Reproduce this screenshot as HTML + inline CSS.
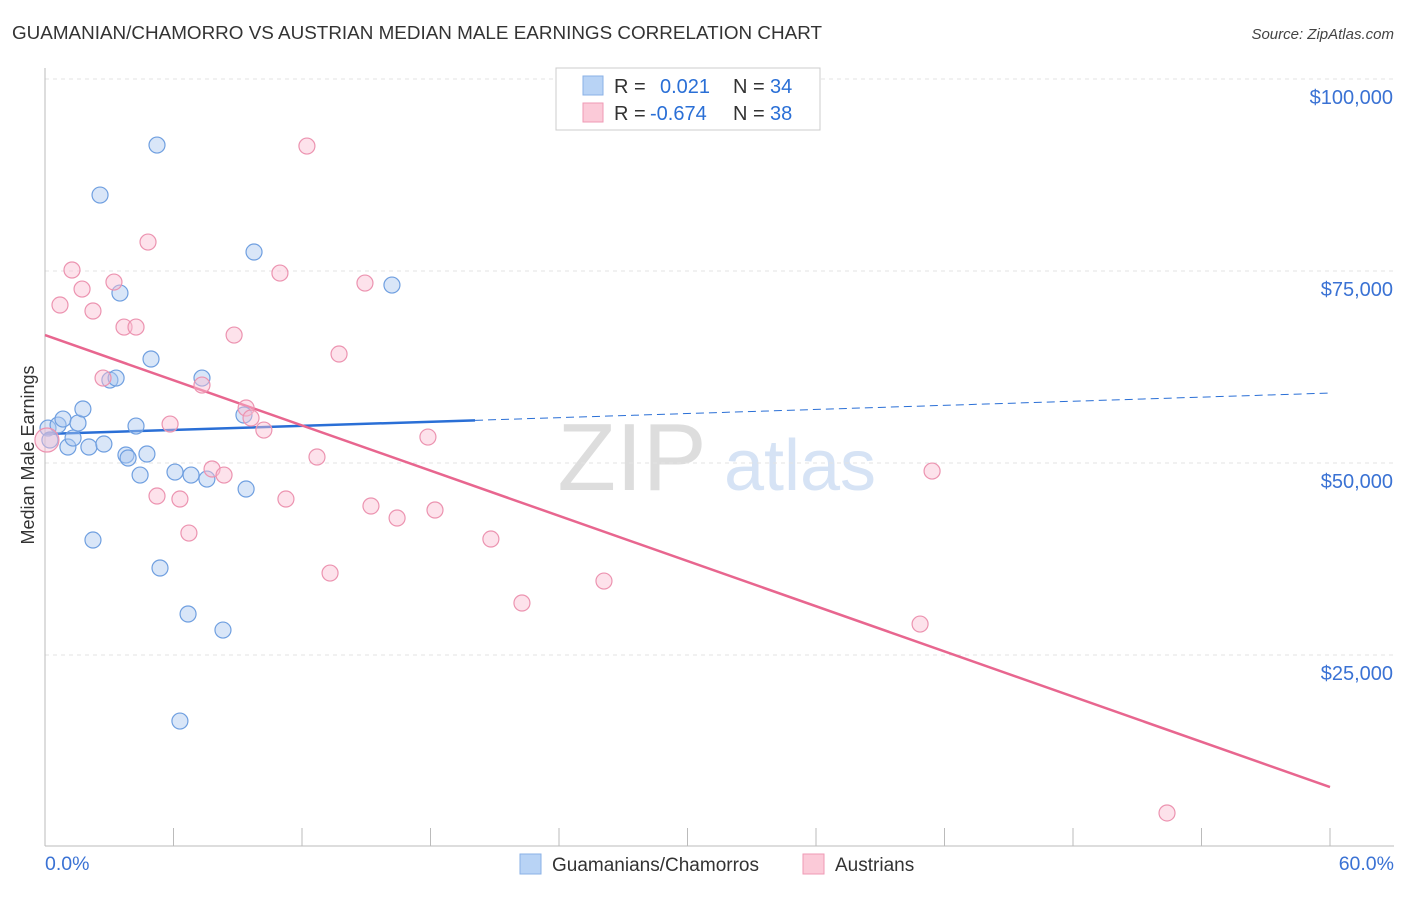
<!DOCTYPE html>
<html><head><meta charset="utf-8"><style>
body{margin:0;background:#fff;font-family:"Liberation Sans",sans-serif;}
svg text{font-family:"Liberation Sans",sans-serif;}
</style></head><body>
<svg id="chart" width="1406" height="892" xmlns="http://www.w3.org/2000/svg">
<text x="12" y="39" font-size="18" fill="#333" textLength="810" lengthAdjust="spacingAndGlyphs">GUAMANIAN/CHAMORRO VS AUSTRIAN MEDIAN MALE EARNINGS CORRELATION CHART</text>
<text x="1394" y="39" font-size="15" fill="#444" text-anchor="end" font-style="italic">Source: ZipAtlas.com</text>
<text transform="translate(34,455) rotate(-90)" font-size="18" fill="#333" text-anchor="middle">Median Male Earnings</text>
<g>
<text x="632" y="490" font-size="96" fill="#ddd" font-family="Liberation Serif" text-anchor="middle">ZIP</text>
<text x="800" y="490" font-size="72" fill="#d6e3f5" text-anchor="middle">atlas</text>
</g>
<g id="grid"></g><g id="axes"></g><g id="lines"></g><g id="pts"></g>
<g>
<rect x="556" y="68" width="264" height="62" fill="#fff" stroke="#ccc"/>
<rect x="583" y="76" width="20" height="19" fill="#b8d3f5" stroke="#8ab0e6"/>
<text x="614" y="93" font-size="20" fill="#333">R =</text>
<text x="660" y="93" font-size="20" fill="#2a6fd6">0.021</text>
<text x="733" y="93" font-size="20" fill="#333">N =</text>
<text x="770" y="93" font-size="20" fill="#2a6fd6">34</text>
<rect x="583" y="103" width="20" height="19" fill="#fbcad8" stroke="#ef9ab5"/>
<text x="614" y="120" font-size="20" fill="#333">R =</text>
<text x="650" y="120" font-size="20" fill="#2a6fd6">-0.674</text>
<text x="733" y="120" font-size="20" fill="#333">N =</text>
<text x="770" y="120" font-size="20" fill="#2a6fd6">38</text>
</g>
<g>
<rect x="520" y="854" width="21" height="20" fill="#b8d3f5" stroke="#8ab0e6"/>
<text x="552" y="871" font-size="19" fill="#333">Guamanians/Chamorros</text>
<rect x="803" y="854" width="21" height="20" fill="#fbcad8" stroke="#ef9ab5"/>
<text x="835" y="871" font-size="19" fill="#333">Austrians</text>
</g>
</svg>
<script>
const blueX=[0.14,0.61,0.84,1.07,1.31,1.54,1.77,2.05,2.24,2.57,2.75,3.03,3.32,3.50,3.78,3.88,4.25,4.44,4.76,4.95,5.23,5.37,6.07,6.30,6.68,6.82,7.33,7.56,8.31,9.29,9.39,9.76,16.20,0.23];
const blueY=[54550,54940,55720,52080,53250,55200,57030,52080,39970,84890,52470,60800,61060,72130,51040,50650,54810,48430,51170,63540,91400,36330,48820,16400,30340,48430,61060,47910,28250,56250,46610,77470,73170,52990];
const pinkX=[0.09,0.70,1.26,1.73,2.24,2.71,3.22,3.69,4.25,4.81,5.23,5.84,6.30,6.72,7.33,7.80,8.36,8.83,9.39,9.62,10.22,10.97,11.25,12.23,12.70,13.31,13.73,14.94,15.22,16.44,17.88,18.21,20.82,22.27,26.10,40.86,41.42,52.39];
const pinkY=[52990,70570,75130,72650,69790,61060,73560,67700,67700,78770,45700,55070,45310,40880,60150,49220,48430,66660,57160,55860,54290,74730,45310,91270,50780,35670,64190,73430,44400,42840,53380,43880,40100,31770,34630,29030,48950,4430];
const yTicks=[25000,50000,75000,100000];
const yTickLabels=["$25,000","$50,000","$75,000","$100,000"];
const xTickLabels=["0.0%","60.0%"];
const blueTrend=[53770,59110];
const blueSolidEnd=20.08;
const pinkTrend=[66660,7810];
const NS="http://www.w3.org/2000/svg";
const X=v=>45+v/60*1285;
const Y=v=>847-v/25000*192;
function mk(t,a,p){const e=document.createElementNS(NS,t);for(const k in a)e.setAttribute(k,a[k]);p.appendChild(e);return e;}
const grid=document.getElementById('grid'),axes=document.getElementById('axes'),lines=document.getElementById('lines'),pts=document.getElementById('pts');
yTicks.forEach((t,i)=>{
 const l=mk('line',{x1:45,x2:1394,y1:Y(t),y2:Y(t),stroke:'#e3e3e3','stroke-dasharray':'4,4'},grid);
 
 
 const tx=mk('text',{x:1393,y:Y(t)+25,'font-size':20,fill:'#3a72d4','text-anchor':'end'},axes);
 tx.textContent=yTickLabels[i];
 
 
});
const ax=mk('line',{x1:45,x2:45,y1:68,y2:846,stroke:'#bbb'},axes);


const bx=mk('line',{x1:45,x2:1394,y1:846,y2:846,stroke:'#bbb'},axes);


for(let i=0;i<=10;i++){const t=mk('line',{x1:X(i*6),x2:X(i*6),y1:828,y2:846,stroke:'#bbb'},axes);
 
 }
[[0,'start',45],[60,'end',1394]].forEach((d,i)=>{const t=mk('text',{x:d[2],y:870,'font-size':19.5,fill:'#3a72d4','text-anchor':d[1]},axes);t.textContent=xTickLabels[i];
 
 });
const slope=(blueTrend[1]-blueTrend[0])/60;
const bm=blueTrend[0]+slope*blueSolidEnd;
let l1=mk('line',{x1:X(0),y1:Y(blueTrend[0]),x2:X(blueSolidEnd),y2:Y(bm),stroke:'#2a6fd6','stroke-width':2.5},lines);


let l2=mk('line',{x1:X(blueSolidEnd),y1:Y(bm),x2:X(60),y2:Y(blueTrend[1]),stroke:'#2a6fd6','stroke-width':1,'stroke-dasharray':'8,5'},lines);


let l3=mk('line',{x1:X(0),y1:Y(pinkTrend[0]),x2:X(60),y2:Y(pinkTrend[1]),stroke:'#e8668f','stroke-width':2.5},lines);


blueX.forEach((x,i)=>{const c=mk('circle',{cx:X(x),cy:Y(blueY[i]),r:8,fill:'rgba(170,200,240,0.45)',stroke:'#6f9fe0','stroke-width':1.2},pts);
 
 });
pinkX.forEach((x,i)=>{const c=mk('circle',{cx:X(x),cy:Y(pinkY[i]),r:i==0?12:8,fill:'rgba(250,190,210,0.45)',stroke:'#ec93b0','stroke-width':1.2},pts);
 
 });
</script>
</body></html>
